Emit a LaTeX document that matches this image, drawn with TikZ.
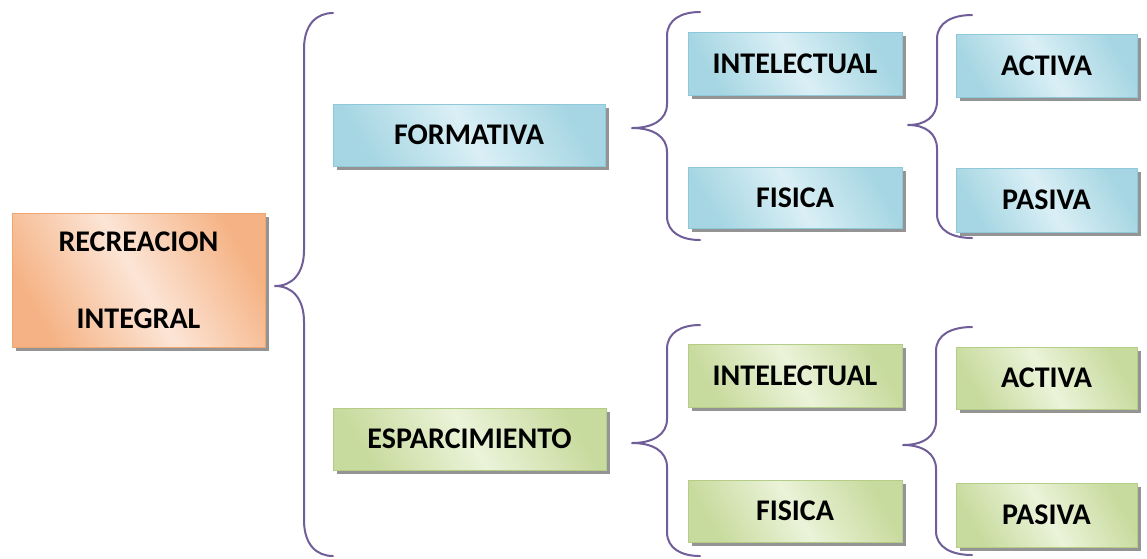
\documentclass[tikz,border=0pt]{standalone}
\usepackage{fontspec}
\setmainfont{Carlito}
\usetikzlibrary{shadows}
\definecolor{bdark}{HTML}{A6D6E3}
\definecolor{blight}{HTML}{DAEFF5}
\definecolor{bline}{HTML}{8FC9D9}
\definecolor{gdark}{HTML}{C8DB9E}
\definecolor{glight}{HTML}{EBF3D9}
\definecolor{gline}{HTML}{B5CD86}
\definecolor{odark}{HTML}{F5B385}
\definecolor{olight}{HTML}{FCE5D6}
\definecolor{oline}{HTML}{EFA772}
\definecolor{bracecol}{HTML}{705E98}
\tikzset{
  box/.style={rectangle, inner sep=0pt, line width=0.8pt,
    font=\fontsize{30}{77}\selectfont\bfseries, text=black, align=center,
    drop shadow={shadow xshift=4pt, shadow yshift=-4pt, fill=black!42, opacity=1}},
  bluebox/.style={box, draw=bline, top color=bdark, bottom color=bdark, middle color=blight, shading angle=-60},
  greenbox/.style={box, draw=gline, top color=gdark, bottom color=gdark, middle color=glight, shading angle=-60},
  orangebox/.style={box, draw=oline, top color=odark, bottom color=odark, middle color=olight, shading angle=-60},
  bracestyle/.style={draw=bracecol, line width=2pt, line cap=round, line join=round}
}
\newcommand{\drawbrace}[7]{%
 \draw[bracestyle] (#4,#5) .. controls ({#3+0.45*(#4-#3)},#5) and (#3,{#5+0.3*#7}) .. (#3,{#5+#7})
 -- (#3,{#2-#7}) .. controls (#3,{#2-0.35*#7}) and ({#3-0.4*(#3-#1)},#2) .. (#1,#2)
 .. controls ({#3-0.4*(#3-#1)},#2) and (#3,{#2+0.35*#7}) .. (#3,{#2+#7})
 -- (#3,{#6-#7}) .. controls (#3,{#6-0.3*#7}) and ({#3+0.45*(#4-#3)},#6) .. (#4,#6);}
\begin{document}
\begin{tikzpicture}[x=1pt,y=-1pt]
\useasboundingbox (0,0) rectangle (1147,558);
% boxes
\node[orangebox, minimum width=253pt, minimum height=134pt] (rec) at (138.5,280) {RECREACION\\INTEGRAL};
\node[bluebox, minimum width=272pt, minimum height=62pt] (form) at (469,135) {FORMATIVA};
\node[greenbox, minimum width=273pt, minimum height=62pt] (espa) at (469.5,439) {ESPARCIMIENTO};
\node[bluebox, minimum width=214pt, minimum height=63pt] (int1) at (795,63.5) {INTELECTUAL};
\node[bluebox, minimum width=214pt, minimum height=61pt] (fis1) at (795,197.5) {FISICA};
\node[bluebox, minimum width=181pt, minimum height=63pt] (act1) at (1046.5,65.5) {ACTIVA};
\node[bluebox, minimum width=181pt, minimum height=64pt] (pas1) at (1046.5,200) {PASIVA};
\node[greenbox, minimum width=214pt, minimum height=63pt] (int2) at (795,375.5) {INTELECTUAL};
\node[greenbox, minimum width=214pt, minimum height=62pt] (fis2) at (795,511) {FISICA};
\node[greenbox, minimum width=181pt, minimum height=62pt] (act2) at (1046.5,378) {ACTIVA};
\node[greenbox, minimum width=181pt, minimum height=64pt] (pas2) at (1046.5,515) {PASIVA};
% braces
\drawbrace{275}{286}{304}{333}{13}{556}{36}
\drawbrace{632}{128}{667}{700}{12}{240}{24}
\drawbrace{908}{125}{937}{972}{15}{238}{24}
\drawbrace{632}{443}{667}{700}{325}{556}{24}
\drawbrace{903}{445}{936}{972}{327}{555}{24}
\end{tikzpicture}
\end{document}
